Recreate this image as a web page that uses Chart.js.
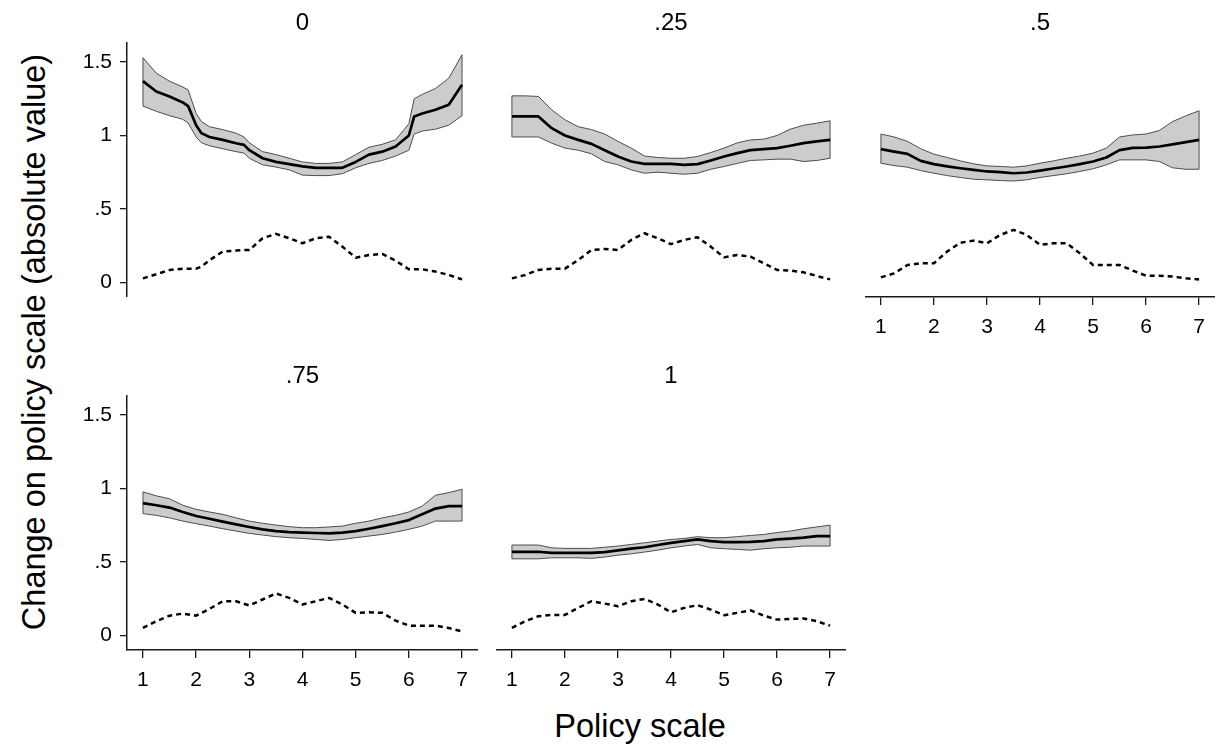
<!DOCTYPE html>
<html>
<head>
<meta charset="utf-8">
<title>Change on policy scale</title>
<script src="https://cdn.jsdelivr.net/npm/chart.js@4/dist/chart.umd.min.js"></script>
<style>
  html, body { margin: 0; padding: 0; background: #fff; }
  #fig { position: relative; width: 1221px; height: 749px; overflow: hidden;
         font-family: "Liberation Sans", Arial, sans-serif; color: #000; }
  .panel { position: absolute; }
  .axis-title { position: absolute; white-space: nowrap; font-size: 32.5px; line-height: 32px; }
</style>
</head>
<body>
<div id="fig">
  <div class="axis-title" style="left:34px; top:342px; transform:translate(-50%,-50%) rotate(-90deg);">Change on policy scale (absolute value)</div>
  <div class="axis-title" style="left:640px; top:726px; transform:translate(-50%,-50%);">Policy scale</div>
</div>
<script>
// ---- data ---------------------------------------------------------------
const panelTitles = ['0', '.25', '.5', '.75', '1'];

const yTickValues = [0, 0.5, 1, 1.5];
const yTickLabels = ['0', '.5', '1', '1.5'];
const xTickValues = [1, 2, 3, 4, 5, 6, 7];

// evaluation grid used by most panels
const xGrid = [1, 1.25, 1.5, 1.75, 2, 2.25, 2.5, 2.75, 3, 3.25, 3.5, 3.75, 4,
               4.25, 4.5, 4.75, 5, 5.25, 5.5, 5.75, 6, 6.25, 6.5, 6.75, 7];
// finer grid for the first panel (steep steps near 2, 3 and 6)
const xGridA = [1, 1.25, 1.5, 1.75, 1.85, 2, 2.1, 2.25, 2.5, 2.75, 2.9, 3, 3.25, 3.5,
                3.75, 4, 4.25, 4.5, 4.75, 5, 5.25, 5.5, 5.75, 6, 6.1, 6.25, 6.5, 6.75, 7];

// panel "0"
const mean0 = [1.37, 1.30, 1.266, 1.225, 1.20, 1.07, 1.016, 0.99, 0.97, 0.947, 0.936, 0.90, 0.845, 0.82,
               0.805, 0.79, 0.78, 0.78, 0.78, 0.82, 0.87, 0.89, 0.925, 1.0, 1.13, 1.15, 1.175, 1.21, 1.345];
const hi0   = [1.53, 1.425, 1.37, 1.33, 1.31, 1.15, 1.095, 1.06, 1.04, 1.016, 0.99, 0.95, 0.89, 0.87,
               0.845, 0.82, 0.81, 0.81, 0.82, 0.87, 0.92, 0.94, 0.97, 1.08, 1.25, 1.28, 1.32, 1.39, 1.55];
const lo0   = [1.20, 1.165, 1.135, 1.11, 1.085, 0.99, 0.95, 0.93, 0.91, 0.89, 0.88, 0.845, 0.80, 0.785,
               0.766, 0.73, 0.727, 0.727, 0.74, 0.78, 0.81, 0.83, 0.86, 0.90, 1.01, 1.03, 1.043, 1.07, 1.135];
const dens0 = [0.027, 0.055, 0.084, 0.093, 0.093, 0.093, 0.107, 0.15, 0.21, 0.216, 0.22, 0.22, 0.30, 0.33,
               0.30, 0.266, 0.30, 0.31, 0.243, 0.168, 0.186, 0.193, 0.148, 0.089, 0.089, 0.089, 0.073, 0.05, 0.02];

// panel ".25"
const mean25 = [1.13, 1.13, 1.13, 1.05, 1.0, 0.97, 0.943, 0.90, 0.857, 0.823, 0.807, 0.807, 0.807,
                0.80, 0.805, 0.83, 0.857, 0.88, 0.90, 0.907, 0.914, 0.93, 0.948, 0.96, 0.97];
const hi25   = [1.27, 1.27, 1.266, 1.175, 1.107, 1.06, 1.04, 1.01, 0.96, 0.914, 0.86, 0.85, 0.845,
                0.845, 0.857, 0.884, 0.914, 0.95, 0.97, 0.975, 1.0, 1.043, 1.07, 1.084, 1.10];
const lo25   = [0.99, 0.99, 0.99, 0.948, 0.914, 0.90, 0.875, 0.823, 0.80, 0.766, 0.743, 0.75, 0.743,
                0.736, 0.743, 0.77, 0.789, 0.81, 0.83, 0.834, 0.839, 0.839, 0.823, 0.83, 0.845];
const dens25 = [0.027, 0.05, 0.084, 0.093, 0.093, 0.152, 0.22, 0.227, 0.22, 0.289, 0.334, 0.30, 0.26,
                0.289, 0.307, 0.243, 0.17, 0.186, 0.175, 0.13, 0.084, 0.08, 0.068, 0.043, 0.02];

// panel ".5"
const mean50 = [0.907, 0.89, 0.875, 0.827, 0.805, 0.79, 0.777, 0.766, 0.755, 0.75, 0.743, 0.748, 0.761,
                0.775, 0.789, 0.805, 0.823, 0.85, 0.90, 0.916, 0.918, 0.925, 0.94, 0.955, 0.97];
const hi50   = [1.01, 0.99, 0.96, 0.91, 0.873, 0.85, 0.827, 0.807, 0.793, 0.789, 0.784, 0.793, 0.811,
                0.827, 0.845, 0.86, 0.88, 0.914, 0.99, 1.004, 1.01, 1.034, 1.095, 1.134, 1.168];
const lo50   = [0.811, 0.795, 0.784, 0.761, 0.743, 0.727, 0.714, 0.702, 0.698, 0.693, 0.69, 0.698, 0.714,
                0.727, 0.739, 0.755, 0.773, 0.80, 0.834, 0.834, 0.834, 0.823, 0.78, 0.77, 0.77];
const dens50 = [0.034, 0.061, 0.118, 0.13, 0.13, 0.21, 0.27, 0.284, 0.266, 0.323, 0.357, 0.323, 0.255,
                0.266, 0.266, 0.198, 0.118, 0.118, 0.118, 0.08, 0.045, 0.045, 0.039, 0.027, 0.02];

// panel ".75"
const mean75 = [0.90, 0.886, 0.87, 0.84, 0.813, 0.794, 0.774, 0.756, 0.738, 0.722, 0.71, 0.703, 0.70,
                0.697, 0.694, 0.70, 0.71, 0.726, 0.744, 0.763, 0.785, 0.824, 0.863, 0.88, 0.88];
const hi75   = [0.977, 0.95, 0.93, 0.886, 0.858, 0.84, 0.824, 0.80, 0.778, 0.763, 0.751, 0.74, 0.733,
                0.733, 0.738, 0.744, 0.763, 0.778, 0.80, 0.817, 0.84, 0.88, 0.954, 0.972, 0.995];
const lo75   = [0.829, 0.817, 0.80, 0.778, 0.76, 0.744, 0.726, 0.71, 0.694, 0.683, 0.672, 0.665, 0.66,
                0.653, 0.646, 0.653, 0.665, 0.676, 0.687, 0.703, 0.722, 0.744, 0.778, 0.778, 0.778];
const dens75 = [0.05, 0.096, 0.134, 0.148, 0.134, 0.18, 0.232, 0.232, 0.203, 0.244, 0.285, 0.255, 0.21,
                0.232, 0.255, 0.21, 0.153, 0.157, 0.153, 0.10, 0.066, 0.066, 0.066, 0.05, 0.027];

// panel "1"
const mean100 = [0.569, 0.569, 0.569, 0.562, 0.562, 0.562, 0.562, 0.567, 0.578, 0.59, 0.60, 0.615, 0.63,
                 0.642, 0.653, 0.642, 0.635, 0.635, 0.637, 0.642, 0.653, 0.658, 0.665, 0.676, 0.676];
const hi100   = [0.615, 0.615, 0.615, 0.596, 0.592, 0.592, 0.592, 0.60, 0.608, 0.619, 0.63, 0.642, 0.653,
                 0.66, 0.672, 0.665, 0.665, 0.672, 0.68, 0.687, 0.70, 0.71, 0.726, 0.738, 0.751];
const lo100   = [0.521, 0.521, 0.521, 0.528, 0.528, 0.528, 0.524, 0.533, 0.546, 0.555, 0.567, 0.58, 0.596,
                 0.608, 0.619, 0.596, 0.59, 0.585, 0.58, 0.59, 0.596, 0.60, 0.608, 0.608, 0.608];
const dens100 = [0.05, 0.096, 0.13, 0.139, 0.139, 0.187, 0.232, 0.216, 0.198, 0.232, 0.248, 0.21, 0.157,
                 0.187, 0.205, 0.175, 0.137, 0.153, 0.17, 0.134, 0.107, 0.112, 0.114, 0.096, 0.066];

// ---- layout & style ------------------------------------------------------
const FONT = '"Liberation Sans", Arial, sans-serif';
const AXIS_COLOR = '#1a1a1a';
const BAND_FILL = '#cccccc';
const BAND_EDGE = '#4d4d4d';
const X_MIN = 0.7, X_MAX = 7.3, Y_MIN = -0.1, Y_MAX = 1.63;
const Y_AXIS_W = 100, X_AXIS_H = 50, TITLE_H = 35;

const panels = [
  { title: panelTitles[0], xs: xGridA, mean: mean0,   hi: hi0,   lo: lo0,   dens: dens0,
    area: { left: 127, top: 43,  right: 478,  bottom: 297 }, yAxis: true,  xAxis: false },
  { title: panelTitles[1], xs: xGrid,  mean: mean25,  hi: hi25,  lo: lo25,  dens: dens25,
    area: { left: 496, top: 43,  right: 846,  bottom: 297 }, yAxis: false, xAxis: false },
  { title: panelTitles[2], xs: xGrid,  mean: mean50,  hi: hi50,  lo: lo50,  dens: dens50,
    area: { left: 865, top: 43,  right: 1215, bottom: 297 }, yAxis: false, xAxis: true },
  { title: panelTitles[3], xs: xGrid,  mean: mean75,  hi: hi75,  lo: lo75,  dens: dens75,
    area: { left: 127, top: 396, right: 478,  bottom: 650 }, yAxis: true,  xAxis: true },
  { title: panelTitles[4], xs: xGrid,  mean: mean100, hi: hi100, lo: lo100, dens: dens100,
    area: { left: 496, top: 396, right: 846,  bottom: 650 }, yAxis: false, xAxis: true },
];

const pts = (xs, ys) => xs.map((x, i) => ({ x: x, y: ys[i] }));

function zeroPadding(scale) {
  scale.paddingLeft = 0; scale.paddingRight = 0;
  scale.paddingTop = 0; scale.paddingBottom = 0;
}

const fig = document.getElementById('fig');

panels.forEach((p) => {
  const left = p.area.left - (p.yAxis ? Y_AXIS_W : 0);
  const top = p.area.top - TITLE_H;
  const width = p.area.right - left;
  const height = p.area.bottom + (p.xAxis ? X_AXIS_H : 0) - top;

  const wrap = document.createElement('div');
  wrap.className = 'panel';
  wrap.style.left = left + 'px';
  wrap.style.top = top + 'px';
  wrap.style.width = width + 'px';
  wrap.style.height = height + 'px';
  const canvas = document.createElement('canvas');
  canvas.width = width;
  canvas.height = height;
  canvas.style.width = width + 'px';
  canvas.style.height = height + 'px';
  wrap.appendChild(canvas);
  fig.appendChild(wrap);

  const n = p.xs.length;
  const edge = { borderColor: BAND_EDGE, borderWidth: 1, fill: false, pointRadius: 0 };

  new Chart(canvas, {
    type: 'line',
    data: {
      datasets: [
        Object.assign({ label: 'lower bound', data: pts(p.xs, p.lo), order: 4 }, edge),
        { label: 'upper bound', data: pts(p.xs, p.hi), order: 5, fill: 0,
          backgroundColor: BAND_FILL, borderColor: BAND_EDGE, borderWidth: 1, pointRadius: 0 },
        Object.assign({ label: 'band start', order: 3,
          data: [{ x: p.xs[0], y: p.lo[0] }, { x: p.xs[0], y: p.hi[0] }] }, edge),
        Object.assign({ label: 'band end', order: 3,
          data: [{ x: p.xs[n - 1], y: p.lo[n - 1] }, { x: p.xs[n - 1], y: p.hi[n - 1] }] }, edge),
        { label: 'distribution', data: pts(p.xs, p.dens), order: 2, fill: false,
          borderColor: '#000', borderWidth: 2.5, borderDash: [5, 4], pointRadius: 0 },
        { label: 'estimate', data: pts(p.xs, p.mean), order: 1, fill: false,
          borderColor: '#000', borderWidth: 2.7, pointRadius: 0 },
      ],
    },
    options: {
      responsive: false,
      animation: false,
      devicePixelRatio: 1,
      events: [],
      layout: { padding: 0 },
      elements: { line: { tension: 0, borderJoinStyle: 'round', borderCapStyle: 'butt' } },
      plugins: {
        legend: { display: false },
        tooltip: { enabled: false },
        title: {
          display: true, text: p.title, color: '#000', fullSize: false,
          font: { family: FONT, size: 24, weight: 'normal', lineHeight: 1.25 },
          padding: { top: 0, bottom: 5 },
        },
      },
      scales: {
        x: {
          type: 'linear', position: 'bottom', min: X_MIN, max: X_MAX,
          display: p.xAxis,
          afterBuildTicks: (s) => { s.ticks = xTickValues.map((v) => ({ value: v })); },
          afterFit: (s) => { if (p.xAxis) s.height = X_AXIS_H; zeroPadding(s); },
          grid: { drawOnChartArea: false, drawTicks: true, tickLength: 8,
                  color: AXIS_COLOR, lineWidth: 1.3 },
          border: { display: true, color: AXIS_COLOR, width: 1.5 },
          ticks: { padding: 10, color: '#000', maxRotation: 0, autoSkip: false,
                   font: { family: FONT, size: 21 }, callback: (v) => String(v) },
        },
        y: {
          type: 'linear', position: 'left', min: Y_MIN, max: Y_MAX,
          display: p.yAxis,
          afterBuildTicks: (s) => { s.ticks = yTickValues.map((v) => ({ value: v })); },
          afterFit: (s) => { if (p.yAxis) s.width = Y_AXIS_W; zeroPadding(s); },
          grid: { drawOnChartArea: false, drawTicks: true, tickLength: 7,
                  color: AXIS_COLOR, lineWidth: 1.3 },
          border: { display: true, color: AXIS_COLOR, width: 1.5 },
          ticks: { padding: 8, color: '#000', font: { family: FONT, size: 21 },
                   callback: (v) => yTickLabels[yTickValues.indexOf(v)] },
        },
      },
    },
  });
});
</script>
</body>
</html>
